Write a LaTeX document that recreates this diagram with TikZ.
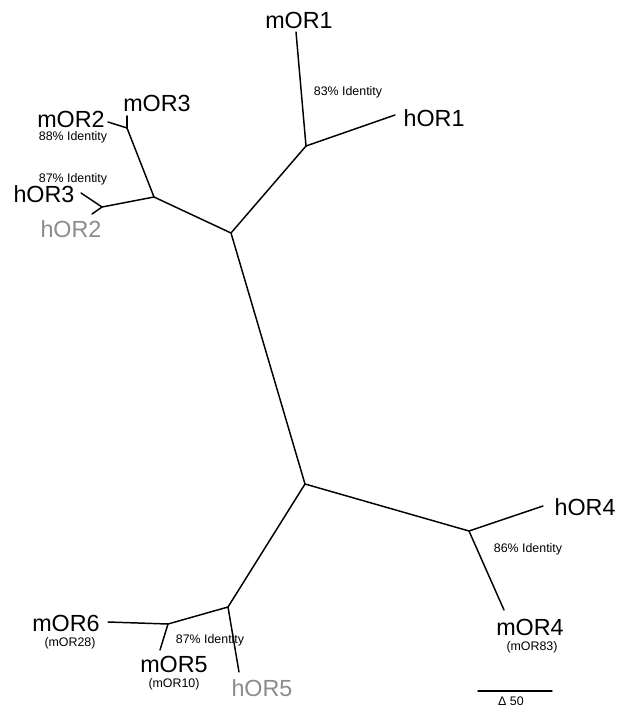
\documentclass[tikz,border=0pt]{standalone}
\usepackage{fontspec}
\setmainfont{Liberation Sans}
\usepackage{tikz}
\usetikzlibrary{positioning}
\tikzset{
  leaf/.style={inner sep=0pt, font=\fontsize{17.5}{20}\selectfont},
  humanleaf/.style={leaf, text=black!45},
  alias/.style={inner sep=0pt, font=\fontsize{9.3}{11}\selectfont},
  ident/.style={inner sep=0pt, font=\fontsize{9.3}{11}\selectfont},
  branch/.style={line width=1.1pt, line cap=round, line join=round}
}

\begin{document}
\begin{tikzpicture}[x=0.75pt, y=-0.75pt]
\useasboundingbox (0,0) rectangle (619,707);
% inner junctions
\coordinate (top) at (231,233);
\coordinate (bottom) at (305,484);
\coordinate (or1) at (306,146);
\coordinate (or23) at (154,197);
\coordinate (m23) at (127,128);
\coordinate (h23) at (102,207);
\coordinate (or4) at (469,531);
\coordinate (or56) at (228,607);
\coordinate (m56) at (168,624);
% leaf tips
\coordinate (tipmOR1) at (296,32);
\coordinate (tiphOR1) at (395,115);
\coordinate (tipmOR3) at (127,116);
\coordinate (tipmOR2) at (108,122);
\coordinate (tiphOR3) at (81,193);
\coordinate (tiphOR2) at (92,214);
\coordinate (tiphOR4) at (543,506);
\coordinate (tipmOR4) at (504,610);
\coordinate (tipmOR6) at (108,622);
\coordinate (tipmOR5) at (160,650);
\coordinate (tiphOR5) at (239,672);

% labels
\node[leaf] (mOR1) at (299,20) {mOR1};
\node[leaf] (hOR1) at (434,118) {hOR1};
\node[leaf] (mOR3) at (157,103) {mOR3};
\node[leaf] (mOR2) at (71,119) {mOR2};
\node[leaf] (hOR3) at (44,194) {hOR3};
\node[humanleaf] (hOR2) at (71,229) {hOR2};
\node[leaf] (hOR4) at (585,507) {hOR4};
\node[leaf] (mOR4) at (530,627) {mOR4};
\node[leaf] (mOR6) at (66,623) {mOR6};
\node[leaf] (mOR5) at (174,664) {mOR5};
\node[humanleaf] (hOR5) at (262,688) {hOR5};
\node[alias] (mOR83) at (532,647) {(mOR83)};
\node[alias] (mOR28) at (70,643) {(mOR28)};
\node[alias] (mOR10) at (174,684) {(mOR10)};
\node[ident] (id1) at (348,92) {83\% Identity};
\node[ident] (id2) at (73,137) {88\% Identity};
\node[ident] (id3) at (73,179) {87\% Identity};
\node[ident] (id4) at (528,549) {86\% Identity};
\node[ident] (id5) at (210,640) {87\% Identity};

% branches
\draw[branch] (top) -- (bottom);
\draw[branch] (top) -- (or1);
\draw[branch] (or1) -- (tipmOR1);
\draw[branch] (or1) -- (tiphOR1);
\draw[branch] (top) -- (or23);
\draw[branch] (or23) -- (m23);
\draw[branch] (m23) -- (tipmOR3);
\draw[branch] (m23) -- (tipmOR2);
\draw[branch] (or23) -- (h23);
\draw[branch] (h23) -- (tiphOR3);
\draw[branch] (h23) -- (tiphOR2);
\draw[branch] (bottom) -- (or4);
\draw[branch] (or4) -- (tiphOR4);
\draw[branch] (or4) -- (tipmOR4);
\draw[branch] (bottom) -- (or56);
\draw[branch] (or56) -- (tiphOR5);
\draw[branch] (or56) -- (m56);
\draw[branch] (m56) -- (tipmOR6);
\draw[branch] (m56) -- (tipmOR5);

% scale bar
\coordinate (barL) at (478,691);
\coordinate (barR) at (552,691);
\draw[branch] (barL) -- (barR);
\node[alias] (barlabel) at (511,701) {Δ 50};
\end{tikzpicture}
\end{document}
